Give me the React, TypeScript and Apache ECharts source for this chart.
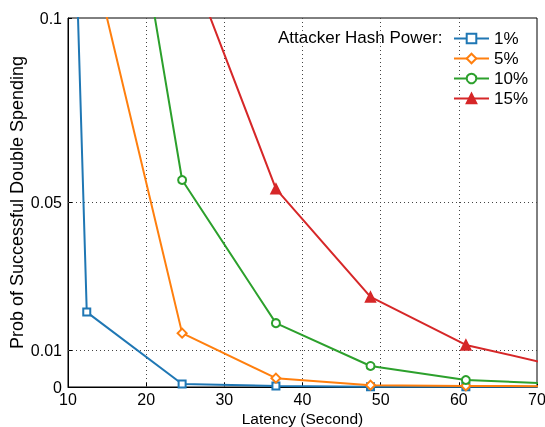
import React, { useEffect, useRef } from "react";
import * as echarts from "echarts";

const latency = [0.2, 12.4, 24.6, 36.6, 48.7, 60.9, 73.1];
const p1 = [0.89, 0.0203, 0.0008, 0.0003, 0.0001, 0.0001, 0.0001];
const p5 = [0.8, 0.123, 0.0146, 0.0024, 0.0005, 0.0003, 0.0002];
const p10 = [0.9, 0.21, 0.0561, 0.0173, 0.0057, 0.0019, 0.0008];
const p15 = [0.95, 0.3, 0.12, 0.0537, 0.0244, 0.0114, 0.0055];
const seriesNames = ["1%", "5%", "10%", "15%"];
const yTicks = [0, 0.01, 0.05, 0.1];
const xGridLines = [20, 30, 40, 50, 60];
const yGridLines = [0.01, 0.05];

const colors = ["#1f77b4", "#ff7f0e", "#2ca02c", "#d62728"];
const symbols = ["emptyRect", "emptyDiamond", "emptyCircle", "triangle"];
const symbolSizes = [7, 9, 8, 10];

export default function App() {
  const ref = useRef<HTMLDivElement>(null);
  useEffect(() => {
    if (!ref.current) return;
    const chart = echarts.init(ref.current, null, { renderer: "svg" });
    const all = [p1, p5, p10, p15];
    const font = "Liberation Sans, Arial, sans-serif";
    const series: any[] = all.map((vals, i) => ({
      name: seriesNames[i],
      type: "line",
      data: latency.map((x, j) => [x, vals[j]]),
      color: colors[i],
      symbol: symbols[i],
      symbolSize: symbolSizes[i],
      lineStyle: { width: 2, color: colors[i] },
      itemStyle: { color: colors[i], borderColor: colors[i], borderWidth: 1.5 },
      clip: true,
      z: 3 + i,
    }));
    series[0].markLine = {
      silent: true,
      symbol: "none",
      label: { show: false },
      lineStyle: { type: [1, 3], color: "#444", width: 1 },
      data: [
        ...xGridLines.map((v) => ({ xAxis: v })),
        ...yGridLines.map((v) => ({ yAxis: v })),
      ],
      z: 1,
    };
    chart.setOption({
      animation: false,
      textStyle: { fontFamily: font },
      grid: {
        left: 68,
        right: 8,
        top: 18,
        bottom: 40,
        outerBoundsMode: "none",
        containLabel: false,
        show: true,
        borderColor: "#000",
        borderWidth: 1,
        backgroundColor: "transparent",
      },
      legend: {
        orient: "vertical",
        left: 448,
        top: 25,
        itemWidth: 35,
        itemHeight: 12,
        itemGap: 3,
        textStyle: { fontSize: 17, lineHeight: 16, color: "#000", fontFamily: font },
        data: seriesNames,
      },
      graphic: [
        {
          type: "text",
          left: 278,
          top: 29,
          style: { text: "Attacker Hash Power:", fontSize: 17, fill: "#000", fontFamily: font },
        },
      ],
      xAxis: {
        type: "value",
        min: 10,
        max: 70,
        interval: 10,
        name: "Latency (Second)",
        nameLocation: "middle",
        nameGap: 23,
        nameMoveOverlap: false,
        nameTextStyle: { fontSize: 15.5, color: "#000" },
        axisLine: { show: true, lineStyle: { color: "#000" } },
        axisTick: { inside: true, length: 4, lineStyle: { color: "#000" } },
        axisLabel: { fontSize: 16, color: "#000", margin: 4 },
        splitLine: { show: false },
      },
      yAxis: {
        type: "value",
        min: 0,
        max: 0.1,
        name: "Prob of Successful Double Spending",
        nameLocation: "middle",
        nameGap: 42,
        nameMoveOverlap: false,
        nameTextStyle: { fontSize: 18, color: "#000" },
        axisLine: { show: true, lineStyle: { color: "#000" } },
        axisTick: { inside: true, length: 4, customValues: yTicks, lineStyle: { color: "#000" } },
        axisLabel: {
          fontSize: 16,
          color: "#000",
          margin: 6,
          customValues: yTicks,
          formatter: (v: number) => String(Number(v.toFixed(3))),
        },
        splitLine: { show: false },
      },
      series,
    });
    return () => chart.dispose();
  }, []);
  return (
    <div
      ref={ref}
      style={{ position: "fixed", left: 0, top: 0, width: 545, height: 427 }}
    />
  );
}
